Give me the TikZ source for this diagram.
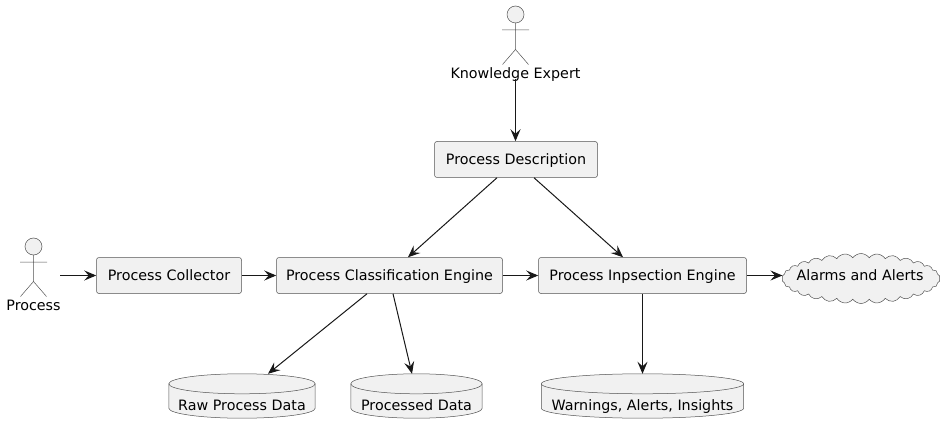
\documentclass[tikz,border=0pt]{standalone}
\usepackage{fontspec}
\setmainfont{DejaVu Sans}
\usetikzlibrary{arrows.meta, backgrounds, calc, positioning, shapes.symbols}

\definecolor{umlfill}{HTML}{F1F1F1}
\definecolor{umlline}{HTML}{181818}

\tikzset{
  umltext/.style={font=\fontsize{14.3}{16}\selectfont, text height=11pt, text depth=0.6pt},
  outline/.style={draw=umlline!75, line width=0.5pt},
  box/.style={outline, fill=umlfill, rounded corners=2.5pt, minimum height=36pt, inner sep=0pt, umltext},
  store/.style={minimum height=44pt, inner sep=0pt, font=\fontsize{14.3}{16}\selectfont, text height=29.4pt, text depth=1pt},
  alarm/.style={cloud, cloud puffs=30, cloud puff arc=110, aspect=3.4, outline, fill=umlfill, minimum width=158pt, minimum height=50pt, inner sep=0pt},
  caption/.style={inner sep=0pt, umltext},
  flow/.style={draw=umlline, line width=1pt, -{Stealth[length=12pt, width=10pt, inset=4.5pt]}},
  pics/actor/.style={code={
    \draw[outline, fill=umlfill] (0,21.5) circle[radius=8.5];
    \draw[outline] (0,13) -- (0,-13.5) (-13.5,6) -- (13.5,6)
      (-13,-28.5) -- (0,-13.5) -- (13,-28.5);
  }}
}

\begin{document}
\begin{tikzpicture}[x=1pt, y=1pt]
  \useasboundingbox (0,0) rectangle (949,434);

  % actors
  \pic at (33.5,166) {actor};
  \node (process-label) [caption] at (33.5,128.5) {Process};
  \coordinate (process-out) at (60,158.5);

  \pic at (515.5,398) {actor};
  \node (expert-label) [caption] at (515.5,360.5) {Knowledge Expert};

  % rectangles
  \node (description) [box, minimum width=163pt] at (516,274.5) {Process Description};
  \node (collector) [box, minimum width=145pt] at (169,158.5) {Process Collector};
  \node (classification) [box, minimum width=226pt] at (389.5,158.5) {Process Classification Engine};
  \node (inspection) [box, minimum width=208pt] at (642.5,158.5) {Process Inpsection Engine};
  \node (alarms) [alarm] at (861,155.5) {};
  \node (alarms-label) [caption] at (860,158.5) {Alarms and Alerts};

  % databases
  \node (rawdata) [store, minimum width=146pt] at (242,38) {Raw Process Data};
  \node (processed) [store, minimum width=131pt] at (416.5,38) {Processed Data};
  \node (warnings) [store, minimum width=202pt] at (642.5,38) {Warnings, Alerts, Insights};

  \begin{scope}[on background layer]
    \foreach \db in {rawdata, processed, warnings} {
      \path let \p1 = ($(\db.north east)-(\db.north west)$) in
        [outline, fill=umlfill]
        ($(\db.north west)+(0,-10)$)
        arc[start angle=180, end angle=0, x radius=0.5*\x1, y radius=10pt]
        -- ($(\db.south east)+(0,10)$)
        arc[start angle=0, end angle=-180, x radius=0.5*\x1, y radius=10pt]
        -- cycle;
      \path let \p1 = ($(\db.north east)-(\db.north west)$) in
        [outline]
        ($(\db.north west)+(0,-10)$)
        arc[start angle=180, end angle=360, x radius=0.5*\x1, y radius=10pt];
    }
  \end{scope}

  % arrows
  \draw[flow] (expert-label.south) to (expert-label.south |- description.north);
  \draw[flow] ($(description.south)+(-19,0)$) to ($(classification.north)+(18.5,0)$);
  \draw[flow] ($(description.south)+(18,0)$) to ($(inspection.north)+(-19.5,0)$);
  \draw[flow] (process-out) to (collector.west);
  \draw[flow] (collector.east) to (classification.west);
  \draw[flow] (classification.east) to (inspection.west);
  \draw[flow] (inspection.east) to (inspection.east -| alarms.west);
  \draw[flow] ($(classification.south)+(-22.5,0)$) to ($(rawdata.north)+(26,0)$);
  \draw[flow] ($(classification.south)+(3.5,0)$) to ($(processed.north)+(-4.5,0)$);
  \draw[flow] (inspection.south) to (warnings.north);

\end{tikzpicture}
\end{document}
